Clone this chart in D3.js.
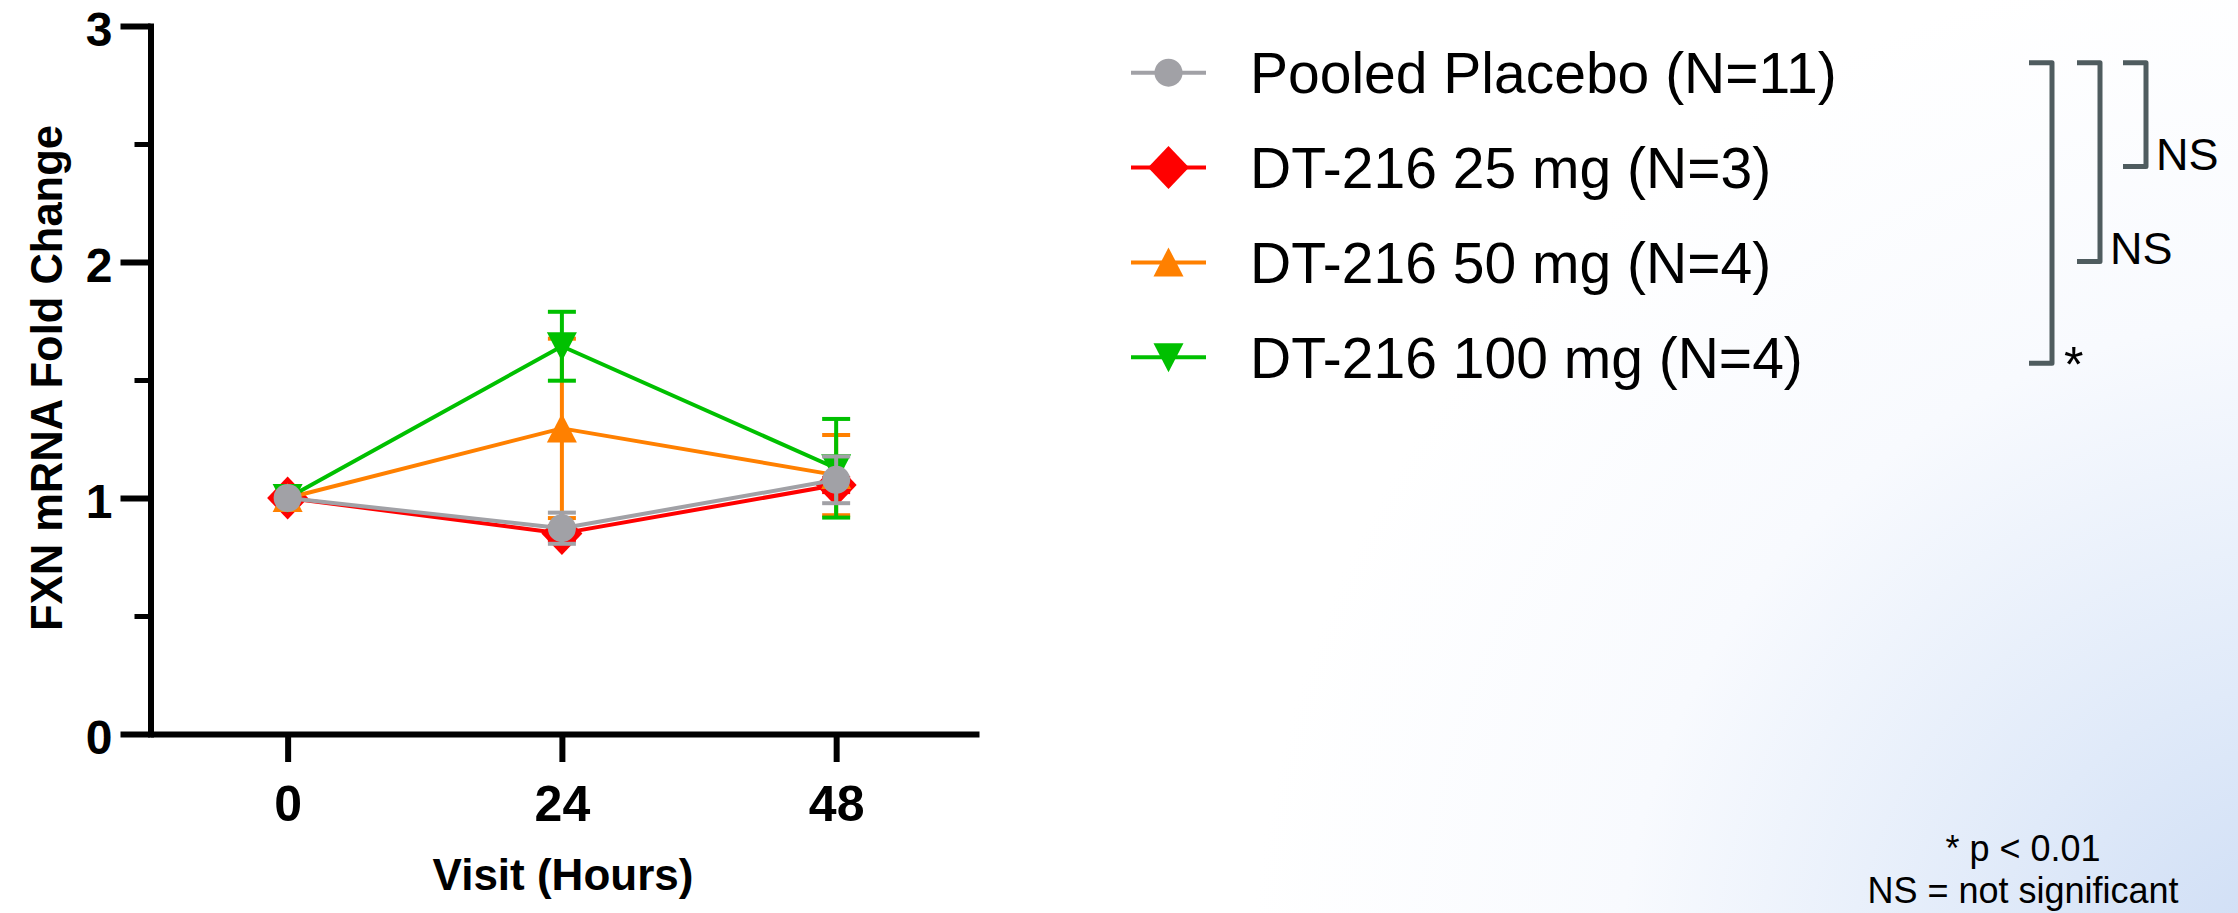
<!DOCTYPE html>
<html><head><meta charset="utf-8">
<script src="https://cdn.jsdelivr.net/npm/d3@7"></script>
<style>
html,body{margin:0;padding:0;background:#fff;}
svg{display:block;}
text{font-family:"Liberation Sans", Arial, sans-serif;}
</style></head><body>
<svg id="chart" width="2238" height="913"></svg>
<script>
// ---------- data ----------
const hours = [0, 24, 48];
const xTickLabels = ["0", "24", "48"];
const yMajorTicks = [0, 1, 2, 3];
const yMinorTicks = [0.5, 1.5, 2.5];
const seriesNames = ["Pooled Placebo (N=11)", "DT-216 25 mg (N=3)", "DT-216 50 mg (N=4)", "DT-216 100 mg (N=4)"];
const placeboMean = [1.00, 0.872, 1.077];
const placeboErr  = [0, 0.066, 0.099];
const dose25Mean  = [1.00, 0.850, 1.055];
const dose25Err   = [0, 0.030, 0.030];
const dose50Mean  = [1.00, 1.295, 1.097];
const dose50Err   = [0, 0.380, 0.170];
const dose100Mean = [1.00, 1.643, 1.126];
const dose100Err  = [0, 0.146, 0.209];
const bracketLabels = ["NS", "NS", "*"];      // placebo vs 25, vs 50, vs 100
const bracketTargets = [1, 2, 3];             // legend row compared with row 0
const footnotes = ["* p < 0.01", "NS = not significant"];
const xTitle = "Visit (Hours)";
const yTitle = "FXN mRNA Fold Change";

// ---------- styling ----------
const colors = ["#a1a1a6", "#ff0000", "#ff8000", "#00c000"];
const shapes = ["circle", "diamond", "up", "down"];
const means = [placeboMean, dose25Mean, dose50Mean, dose100Mean];
const errs = [placeboErr, dose25Err, dose50Err, dose100Err];
const series = seriesNames.map((n, i) => ({name: n, color: colors[i], shape: shapes[i], mean: means[i], err: errs[i]}));

const svg = d3.select("#chart");
const W = 2238, H = 913;

// background gradient (slide background)
const defs = svg.append("defs");
const rg = defs.append("radialGradient").attr("id", "bg")
  .attr("gradientUnits", "userSpaceOnUse")
  .attr("cx", 2300).attr("cy", 1000).attr("r", 1050);
rg.append("stop").attr("offset", "0").attr("stop-color", "#cbdbf4");
rg.append("stop").attr("offset", "0.3").attr("stop-color", "#e0eaf9");
rg.append("stop").attr("offset", "0.65").attr("stop-color", "#f8fafe");
rg.append("stop").attr("offset", "1").attr("stop-color", "#ffffff");
svg.append("rect").attr("width", W).attr("height", H).attr("fill", "url(#bg)");

const x = d3.scaleLinear().domain([-12, 60.5]).range([150.5, 979]);
const y = d3.scaleLinear().domain([0, 3]).range([734, 26]);

// y axis (major)
const yAx = svg.append("g").attr("transform", "translate(150.5,0)")
  .call(d3.axisLeft(y).tickValues(yMajorTicks).tickSize(30).tickSizeOuter(0).tickPadding(8).tickFormat(d3.format("d")));
yAx.select(".domain").attr("stroke", "#000").attr("stroke-width", 6).attr("stroke-linecap", "square");
yAx.selectAll(".tick line").attr("stroke", "#000").attr("stroke-width", 6);
yAx.selectAll(".tick text").attr("font-size", 48).attr("font-weight", "bold").attr("fill", "#000")
  .attr("dy", "19px")
  .attr("font-family", '"Liberation Sans", Arial, sans-serif');
// y axis (minor)
const yMin = svg.append("g").attr("transform", "translate(150.5,0)")
  .call(d3.axisLeft(y).tickValues(yMinorTicks).tickSize(16).tickSizeOuter(0).tickFormat(""));
yMin.select(".domain").remove();
yMin.selectAll(".tick line").attr("stroke", "#000").attr("stroke-width", 5);

// x axis
const xAx = svg.append("g").attr("transform", "translate(0,734)")
  .call(d3.axisBottom(x).tickValues(hours).tickSize(28).tickSizeOuter(0).tickPadding(23)
    .tickFormat((d, i) => xTickLabels[i]));
xAx.select(".domain").attr("stroke", "#000").attr("stroke-width", 6);
xAx.selectAll(".tick line").attr("stroke", "#000").attr("stroke-width", 6);
xAx.selectAll(".tick text").attr("font-size", 50).attr("font-weight", "bold").attr("fill", "#000")
  .attr("font-family", '"Liberation Sans", Arial, sans-serif');

// axis titles
svg.append("text").attr("x", 563).attr("y", 890).attr("text-anchor", "middle")
  .attr("font-size", 44).attr("font-weight", "bold").text(xTitle);
svg.append("text").attr("transform", "translate(62,378) rotate(-90)").attr("text-anchor", "middle")
  .attr("font-size", 43.5).attr("font-weight", "bold").text(yTitle);

// marker path generator
function markerPath(shape) {
  if (shape === "circle") return d3.symbol().type(d3.symbolCircle).size(Math.PI * 14 * 14)();
  if (shape === "diamond") return "M0,-21.5L20.5,0L0,21.5L-20.5,0Z";
  if (shape === "up") return "M0,-15L15,14L-15,14Z";
  return "M0,15L15,-14L-15,-14Z";
}

// draw series: red, orange, green, then gray on top
const drawOrder = [1, 2, 3, 0];
const line = d3.line().x((d, i) => x(hours[i])).y(d => y(d));
drawOrder.forEach(si => {
  const s = series[si];
  const g = svg.append("g");
  g.append("path").datum(s.mean).attr("d", line).attr("fill", "none")
    .attr("stroke", s.color).attr("stroke-width", 4).attr("stroke-linejoin", "round");
  const pts = s.mean.map((m, i) => ({h: hours[i], m: m, e: s.err[i]})).filter(p => p.e > 0);
  const eb = g.selectAll(".eb").data(pts).enter().append("g");
  eb.append("line").attr("x1", d => x(d.h)).attr("x2", d => x(d.h))
    .attr("y1", d => y(d.m - d.e)).attr("y2", d => y(d.m + d.e))
    .attr("stroke", s.color).attr("stroke-width", 4);
  [1, -1].forEach(sign => {
    eb.append("line").attr("x1", d => x(d.h) - 14).attr("x2", d => x(d.h) + 14)
      .attr("y1", d => y(d.m + sign * d.e)).attr("y2", d => y(d.m + sign * d.e))
      .attr("stroke", s.color).attr("stroke-width", 4);
  });
  g.selectAll(".mk").data(s.mean).enter().append("path")
    .attr("d", markerPath(s.shape))
    .attr("transform", (d, i) => `translate(${x(hours[i])},${y(d)})`)
    .attr("fill", s.color);
});

// legend
const rowY = d3.scaleLinear().domain([0, 3]).range([72.7, 357.3]);
const leg = svg.append("g");
series.forEach((s, i) => {
  const gy = rowY(i);
  leg.append("line").attr("x1", 1131).attr("x2", 1206).attr("y1", gy).attr("y2", gy)
    .attr("stroke", s.color).attr("stroke-width", 4);
  leg.append("path").attr("d", markerPath(s.shape)).attr("transform", `translate(1168.5,${gy})`).attr("fill", s.color);
  leg.append("text").attr("x", 1250).attr("y", gy + 20.5).attr("font-size", 57).attr("fill", "#000").text(s.name);
});

// significance brackets
const bracketX = [2146, 2100, 2052];
const bracketBottomAdj = [-1, -1, 6];
bracketTargets.forEach((t, k) => {
  const top = rowY(0) - 10, bot = rowY(t) + bracketBottomAdj[k], bx = bracketX[k];
  svg.append("path").attr("d", `M${bx - 23},${top}H${bx}V${bot}H${bx - 23}`)
    .attr("fill", "none").attr("stroke", "#4f5c5f").attr("stroke-width", 5).attr("stroke-linejoin", "round");
  const lbl = bracketLabels[k];
  if (lbl === "*") {
    svg.append("text").attr("x", bx + 12).attr("y", bot + 19).attr("font-size", 50).attr("fill", "#000").text(lbl);
  } else {
    svg.append("text").attr("x", bx + 10).attr("y", bot + 3).attr("font-size", 45).attr("fill", "#000").text(lbl);
  }
});

// footnotes
footnotes.forEach((f, i) => {
  svg.append("text").attr("x", 2023).attr("y", 861 + i * 42).attr("text-anchor", "middle")
    .attr("font-size", 36).attr("fill", "#000").text(f);
});
</script>
</body></html>
